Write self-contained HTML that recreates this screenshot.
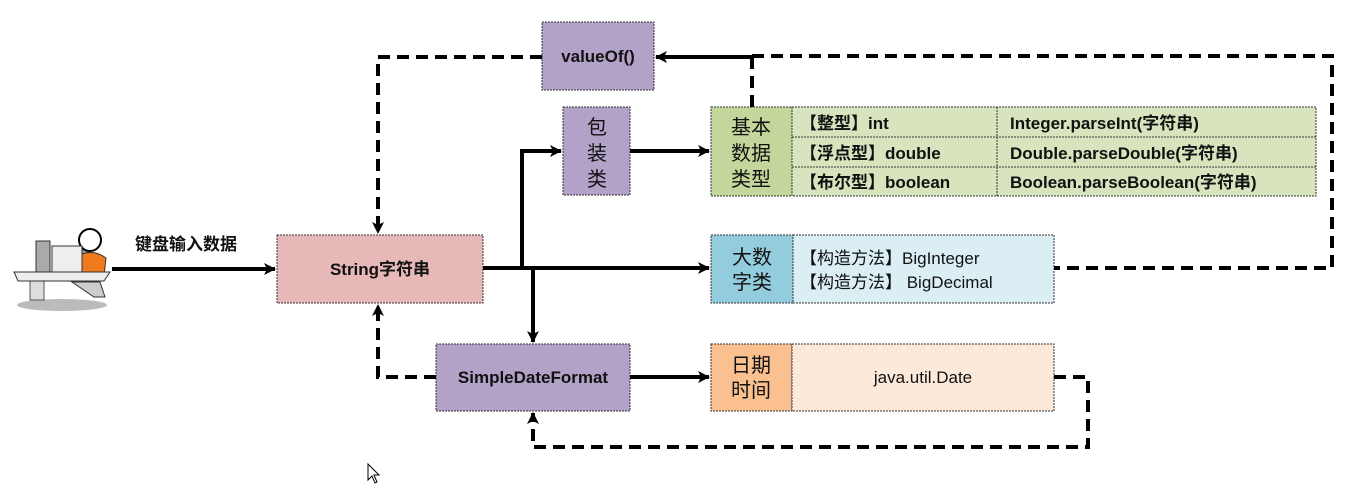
<!DOCTYPE html>
<html><head><meta charset="utf-8"><style>
html,body{margin:0;padding:0;background:#fff;}
svg{display:block;}
text{font-family:"Liberation Sans","Noto Sans CJK SC",sans-serif;fill:#111;}
.b{font-weight:bold;}
</style></head><body>
<svg width="1363" height="489" viewBox="0 0 1363 489" xmlns="http://www.w3.org/2000/svg">
<defs>
<marker id="a" markerWidth="12" markerHeight="12" refX="11" refY="6" orient="auto" markerUnits="userSpaceOnUse"><path d="M0,0 L12,6 L0,12 L3,6 z" fill="#000"/></marker>
</defs>
<g stroke="#333" stroke-width="1" stroke-dasharray="2,1">
<rect x="542" y="22" width="112" height="68" fill="#b3a2c7"/>
<rect x="563" y="107" width="67" height="88" fill="#b3a2c7"/>
<rect x="711" y="107" width="81" height="89" fill="#c3d69b"/>
<rect x="792" y="107" width="524" height="89" fill="#d7e4bd"/>
<line x1="792" y1="137" x2="1316" y2="137"/>
<line x1="792" y1="167" x2="1316" y2="167"/>
<line x1="997" y1="107" x2="997" y2="196"/>
<rect x="277" y="235" width="206" height="68" fill="#e6b9b8"/>
<rect x="711" y="235" width="82" height="68" fill="#93cddd"/>
<rect x="793" y="235" width="261" height="68" fill="#dbeef4"/>
<rect x="436" y="344" width="194" height="67" fill="#b3a2c7"/>
<rect x="711" y="344" width="81" height="67" fill="#fac090"/>
<rect x="792" y="344" width="262" height="67" fill="#fde9d9"/>
</g>
<g stroke="#000" stroke-width="4" fill="none">
<line x1="112" y1="269" x2="275" y2="269" marker-end="url(#a)"/>
<line x1="483" y1="268" x2="709" y2="268" marker-end="url(#a)"/>
<polyline points="522,268 522,151 561,151" marker-end="url(#a)"/>
<line x1="533" y1="268" x2="533" y2="342" marker-end="url(#a)"/>
<line x1="630" y1="151" x2="709" y2="151" marker-end="url(#a)"/>
<line x1="630" y1="377" x2="709" y2="377" marker-end="url(#a)"/>
<line x1="752" y1="57" x2="656" y2="57" marker-end="url(#a)"/>
</g>
<g stroke="#000" stroke-width="4" fill="none" stroke-dasharray="12,7">
<line x1="752" y1="107" x2="752" y2="57"/>
<polyline points="752,56 1332,56 1332,268 1054,268"/>
<polyline points="542,57 378,57 378,233" marker-end="url(#a)"/>
<polyline points="436,377 378,377 378,305" marker-end="url(#a)"/>
<polyline points="1054,377 1088,377 1088,447 533,447 533,413" marker-end="url(#a)"/>
</g>
<!-- person -->
<g>
<ellipse cx="62" cy="305" rx="45" ry="6" fill="#bbb"/>
<rect x="30" y="281" width="14" height="19" fill="#ddd" stroke="#555"/>
<circle cx="80" cy="262" r="13" fill="#999" stroke="#333"/>
<circle cx="90" cy="240" r="11" fill="#fff" stroke="#000" stroke-width="2"/>
<path d="M78,256 Q92,248 106,258 L104,276 L80,274 Z" fill="#f07a1e" stroke="#333"/>
<path d="M72,282 L100,282 L105,297 L94,297 Z" fill="#ccc" stroke="#333"/>
<rect x="36" y="241" width="14" height="31" fill="#aaa" stroke="#333"/>
<rect x="52" y="246" width="30" height="26" fill="#eee" stroke="#333"/>
<path d="M14,272 L110,272 L104,281 L18,281 Z" fill="#eee" stroke="#333"/>
</g>
<text x="135" y="250" font-size="17" class="b">键盘输入数据</text>
<g font-size="17" class="b">
<text x="598" y="62" text-anchor="middle">valueOf()</text>
<text x="380" y="275" text-anchor="middle">String字符串</text>
<text x="533" y="383" text-anchor="middle">SimpleDateFormat</text>
<text x="800" y="129">【整型】int</text>
<text x="800" y="159">【浮点型】double</text>
<text x="800" y="188">【布尔型】boolean</text>
<text x="1010" y="129">Integer.parseInt(字符串)</text>
<text x="1010" y="159">Double.parseDouble(字符串)</text>
<text x="1010" y="188">Boolean.parseBoolean(字符串)</text>
</g>
<g font-size="20" text-anchor="middle">
<text x="597" y="134">包</text>
<text x="597" y="160">装</text>
<text x="597" y="186">类</text>
<text x="751" y="134">基本</text>
<text x="751" y="160">数据</text>
<text x="751" y="186">类型</text>
<text x="752" y="264">大数</text>
<text x="752" y="289">字类</text>
<text x="751" y="372">日期</text>
<text x="751" y="397">时间</text>
</g>
<g font-size="17">
<text x="800" y="264">【构造方法】BigInteger</text>
<text x="800" y="288">【构造方法】 BigDecimal</text>
<text x="923" y="383" text-anchor="middle">java.util.Date</text>
</g>
<path d="M368,464 L368,480 L372,476 L375,483 L377,482 L374,475 L379,475 Z" fill="#fff" stroke="#000" stroke-width="1"/>
</svg>
</body></html>
